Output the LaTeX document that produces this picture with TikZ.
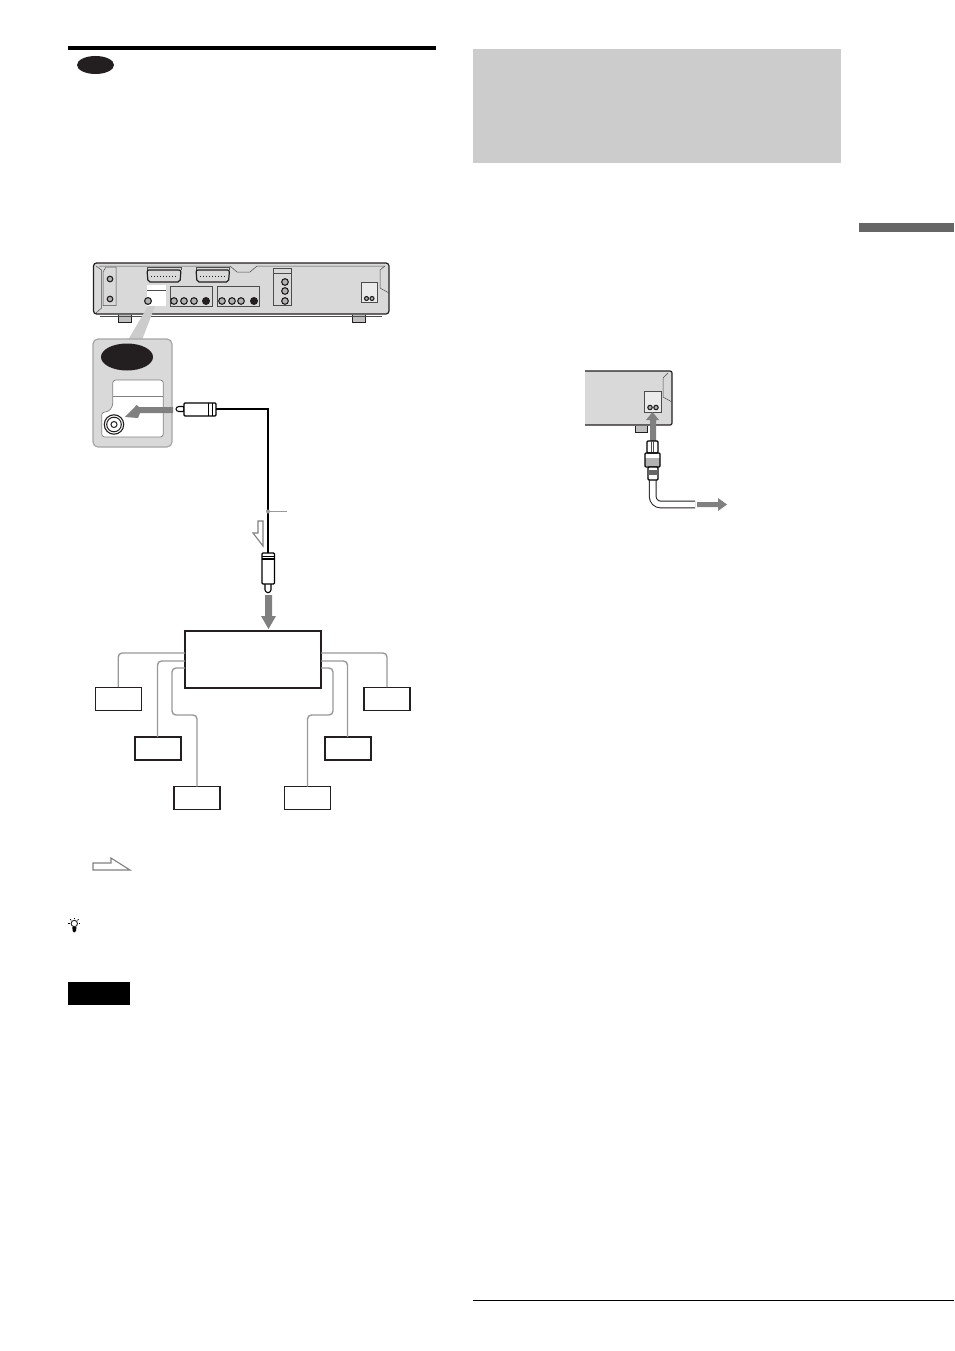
\documentclass[tikz,border=0pt]{standalone}
\usepackage{xcolor}
\usetikzlibrary{calc,shapes.geometric}
\definecolor{bodygray}{HTML}{D9D9D9}
\definecolor{callgray}{HTML}{D9D9D9}
\definecolor{bandgray}{HTML}{CCCCCC}
\definecolor{arrowgray}{HTML}{808080}
\definecolor{feedgray}{HTML}{999999}
\definecolor{inkdark}{HTML}{231F20}
\tikzset{
	setbox/.style={draw=inkdark,fill=white,minimum width=46pt,minimum height=23pt,inner sep=0pt,outer sep=0pt,line width=1.4pt},
	mainbox/.style={draw=inkdark,fill=white,minimum width=136pt,minimum height=57pt,inner sep=0pt,outer sep=0pt,line width=2pt},
	badge/.style={ellipse,fill=inkdark,inner sep=0pt,outer sep=0pt},
	feed/.style={draw=feedgray,line width=1.4pt,rounded corners=4pt},
	jackdot/.style={draw=inkdark,fill=black!30,line width=1.1pt},
	panelline/.style={draw=black!70,line width=0.5pt},
	footline/.style={draw=inkdark,fill=black!25,line width=0.8pt},
	scart/.style={draw=inkdark,fill=bodygray,line width=1.2pt,rounded corners=2pt},
	hollow/.style={draw=black!50,fill=white,line width=1.1pt},
	plugbody/.style={draw=black,fill=white,line width=1.1pt,rounded corners=1pt},
	flow/.style={fill=arrowgray}
}
\begin{document}
\begin{tikzpicture}[x=1pt,y=-1pt]
	\useasboundingbox (0,0) rectangle (954,1351);
	\fill[white] (0,0) rectangle (954,1351);
	\fill[black] (68,46) rectangle (436,50);
	\node[badge,minimum width=37pt,minimum height=18pt] (dotTop) at (95.5,65) {};
	\fill[bandgray] (473,49) rectangle (841,163);
	\fill[black!60] (859,223) rectangle (954,232);
	\fill[black] (473,1300) rectangle (954,1301);
	\fill[black] (68,982) rectangle (130,1005);

	\draw[footline] (118,315) -- (118,322.5) -- (131,322.5) -- (131,315);
	\draw[footline] (352,315) -- (352,322.5) -- (365,322.5) -- (365,315);
	\draw[black!70,line width=0.8pt] (100,316.5) -- (382,316.5);
	\draw[fill=bodygray,draw=inkdark,line width=1.2pt,rounded corners=3pt] (93.5,263) -- (389,263) -- (389,314) -- (93.5,314) -- cycle;
	\draw[panelline] (99,266) -- (230,266) -- (237,272) -- (250,272) -- (257,266) -- (385,266);
	\draw[panelline] (96,266) -- (101.5,270) -- (101.5,308) -- (96,313);
	\draw[panelline] (385,266) -- (380,270) -- (380,288) -- (389,293);
	\draw[panelline] (103,305.5) -- (116,305.5) -- (116,267) -- (106,267) -- (103,272) -- cycle;
	\draw[panelline] (147,270) -- (147,267) -- (181,267) -- (181,270);
	\draw[panelline] (196,270) -- (196,267) -- (229,267) -- (229,270);
	\draw[scart] (147,270) -- (181,270) -- (180,282) -- (148,282) -- cycle;
	\draw[scart] (196,270) -- (229.5,270) -- (228.5,282) -- (197,282) -- cycle;
	\draw[inkdark,line width=1pt,dotted] (151,276) -- (177,276);
	\draw[inkdark,line width=1pt,dotted] (200,276) -- (225,276);
	\fill[white] (147,285) rectangle (166,306);
	\draw[panelline] (147,290.5) -- (166,290.5);
	\draw[panelline] (170,306) -- (170,286.5) -- (212,286.5) -- (212,306) -- cycle;
	\draw[panelline] (217,306) -- (217,286.5) -- (259,286.5) -- (259,306) -- cycle;
	\draw[panelline] (273,305.5) -- (273,268) -- (291,268) -- (291,305.5) -- cycle;
	\draw[panelline] (273,273) -- (291,273);
	\draw[panelline,fill=black!8] (361.5,282) rectangle (377,302.5);
	\foreach \y in {279,299}
		\draw[jackdot] (110,\y) circle [radius=2.8];
	\foreach \x in {174,184,194,222,232,241}
		\draw[jackdot] (\x,301) circle [radius=3.3];
	\foreach \x in {206,254}
		\fill[inkdark] (\x,301) circle [radius=4];
	\foreach \y in {282,291,301}
		\draw[jackdot] (285,\y) circle [radius=3.3];
	\draw[jackdot] (148,301) circle [radius=3.4];
	\foreach \x in {366.5,372}
		\draw[jackdot] (\x,298.5) circle [radius=2];

	\fill[bandgray] (128,340) -- (148,306) -- (155,306) -- (142,340) -- cycle;
	\draw[draw=black!35,fill=callgray,line width=1.2pt,rounded corners=5pt] (93,339) rectangle (172,447);
	\node[badge,minimum width=52pt,minimum height=27pt] (dotCall) at (127,357) {};
	\draw[draw=black!50,fill=white,line width=0.7pt,rounded corners=3pt] (112.7,380) -- (163.3,380) -- (163.3,437) -- (101.7,437) -- (101.7,412) -- (108,412) -- (112.7,406.5) -- cycle;
	\draw[black!50,line width=0.7pt] (112.7,396.7) -- (163.3,396.7);
	\foreach \r/\w in {9.7/1.1,7.3/1,3/1}
		\draw[inkdark,line width=\w pt] (114,424.5) circle [radius=\r];
	\fill[flow] (173,407) -- (173,413) -- (140,413) -- (138,418) -- (125,417) -- (136.7,405) -- (139,407) -- cycle;

	\coordinate (wireA) at (216,409);
	\coordinate (wireB) at (267.5,409);
	\coordinate (wireC) at (267.5,553);
	\draw[plugbody] (176,408) -- (178,406.5) -- (184,406.5) -- (184,411.5) -- (178,411.5) -- (176,410) -- cycle;
	\draw[plugbody] (184,403) rectangle (216,416);
	\draw[black,line width=1pt] (208.5,403) -- (208.5,416) (212,403) -- (212,416);
	\draw[black,line width=2pt] (wireA) -- (wireB) -- (wireC);
	\coordinate (tickA) at (268,511.5);
	\coordinate (tickB) at (287,511.5);
	\draw[feedgray,line width=1pt] (tickA) -- (tickB);
	\fill[feedgray] (tickA) circle [radius=2];
	\draw[hollow] (258,521) -- (263,521) -- (263,546) -- (253,533) -- (258,533) -- cycle;
	\draw[plugbody] (265,584) -- (265,591) -- (268,593) -- (271,591) -- (271,584);
	\draw[plugbody] (262,553) rectangle (274.5,584);
	\fill[black] (262,555.5) rectangle (274.5,557);
	\fill[black] (262,558) rectangle (274.5,559.5);
	\fill[flow] (265,595) -- (272,595) -- (272,616) -- (276,616) -- (268.5,629) -- (261,616) -- (265,616) -- cycle;

	\node[mainbox] (main) at (253.2,659.5) {};
	\node[setbox] (setA) at (118.2,698.7) {};
	\node[setbox,line width=2pt] (setB) at (157.5,748.5) {};
	\node[setbox] (setC) at (197,798) {};
	\node[setbox] (setD) at (307.5,798) {};
	\node[setbox,line width=2pt] (setE) at (347.5,748.5) {};
	\node[setbox] (setF) at (387,698.7) {};
	\coordinate (bendC) at (172,715);
	\coordinate (bendD) at (333,715);
	\draw[feed] ([yshift=6.5pt]main.west) -| (setA.north);
	\draw[feed] ([yshift=-1.5pt]main.west) -| (setB.north);
	\draw[feed] ([yshift=-8.5pt]main.west) -| (bendC) -| (setC.north);
	\draw[feed] ([yshift=6.5pt]main.east) -| (setF.north);
	\draw[feed] ([yshift=-1.5pt]main.east) -| (setE.north);
	\draw[feed] ([yshift=-8.5pt]main.east) -| (bendD) -| (setD.north);

	\draw[hollow] (93,863) -- (111,863) -- (111,858) -- (130,870) -- (93,870) -- cycle;

	\coordinate (bulb) at (74.3,923.5);
	\draw[inkdark,line width=0.9pt] (bulb) circle [radius=3.2];
	\foreach \a in {0,45,90,135,180}
		\draw[black,line width=0.7pt] ($(bulb)+(\a:-4.4)$) -- ($(bulb)+(\a:-6)$);
	\fill[black] (72.3,927) -- (76.5,927) -- (76,931) -- (74,932.5) -- (72.7,931) -- cycle;

	\draw[footline] (635,426) -- (635,432) -- (647,432) -- (647,426);
	\fill[bodygray] (585,371) -- (669,371) -- (672,374) -- (672,425) -- (585,425) -- cycle;
	\draw[inkdark,line width=1.2pt,rounded corners=2pt] (585,371) -- (672,371) -- (672,425) -- (585,425);
	\draw[panelline] (668,373) -- (663,378) -- (663,397) -- (672,402);
	\draw[panelline,fill=black!8] (644,391) rectangle (661,412);
	\foreach \x in {650,656}
		\draw[jackdot] (\x,407.5) circle [radius=2.2];
	\fill[flow] (650,441) -- (650,420) -- (646,420) -- (652.5,412) -- (659,420) -- (656,420) -- (656,441) -- cycle;

	\coordinate (cordA) at (652.7,480);
	\coordinate (cordB) at (652.7,504.5);
	\coordinate (cordC) at (695,504.5);
	\draw[inkdark,line width=7.6pt,rounded corners=8pt] (cordA) -- (cordB) -- (cordC);
	\draw[white,line width=5.6pt,rounded corners=8pt] (cordA) -- (cordB) -- (cordC);
	\draw[plugbody,line width=1.3pt] (647,441) rectangle (658,453);
	\draw[black!70,line width=0.6pt] (651,441) -- (651,453) (653.5,441) -- (653.5,453);
	\fill[black!30] (645,458) rectangle (660,466);
	\draw[plugbody,fill=none] (645,453) rectangle (660,467);
	\draw[plugbody] (648,467) rectangle (658,480);
	\fill[black!60] (648,470) rectangle (658,475);
	\fill[flow] (697,502) -- (718,502) -- (718,498) -- (727,504.5) -- (718,511) -- (718,507) -- (697,507) -- cycle;
\end{tikzpicture}
\end{document}
